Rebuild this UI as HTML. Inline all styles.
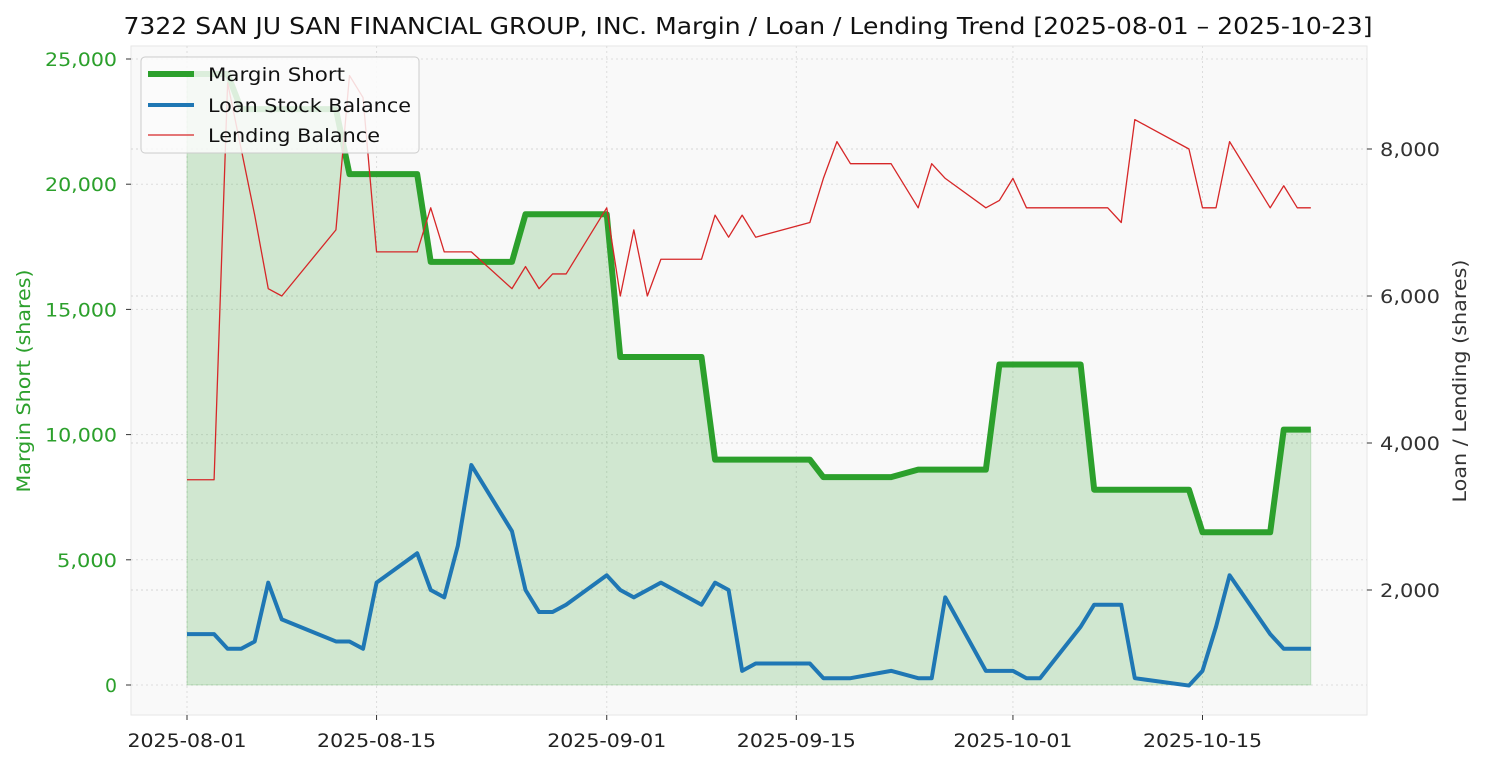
<!DOCTYPE html>
<html><head><meta charset="utf-8"><style>
body{margin:0;background:#fff;font-family:"Liberation Sans","DejaVu Sans",sans-serif}
svg text{font-family:"DejaVu Sans","Liberation Sans",sans-serif}
</style></head><body>
<svg id="c" width="1485" height="765" xmlns="http://www.w3.org/2000/svg"></svg>
<script>
const dayOffsets=[0,2,3,4,5,6,7,11,12,13,14,17,18,19,20,21,24,25,26,27,28,31,32,33,34,35,38,39,40,41,42,46,47,48,49,52,54,55,56,59,60,61,62,63,66,67,68,69,70,74,75,76,77,80,81,82,83];
const marginShort=[24400,24400,24400,23000,23000,23000,23000,23000,20400,20400,20400,20400,16900,16900,16900,16900,16900,18800,18800,18800,18800,18800,13100,13100,13100,13100,13100,9000,9000,9000,9000,9000,8300,8300,8300,8300,8600,8600,8600,8600,12800,12800,12800,12800,12800,7800,7800,7800,7800,7800,6100,6100,6100,6100,10200,10200,10200];
const loanBalance=[1400,1400,1200,1200,1300,2100,1600,1300,1300,1200,2100,2500,2000,1900,2600,3700,2800,2000,1700,1700,1800,2200,2000,1900,2000,2100,1800,2100,2000,900,1000,1000,800,800,800,900,800,800,1900,900,900,900,800,800,1500,1800,1800,1800,800,700,900,1500,2200,1400,1200,1200,1200];
const lendingBalance=[3500,3500,8900,8000,7100,6100,6000,6900,9000,8700,6600,6600,7200,6600,6600,6600,6100,6400,6100,6300,6300,7200,6000,6900,6000,6500,6500,7100,6800,7100,6800,7000,7600,8100,7800,7800,7200,7800,7600,7200,7300,7600,7200,7200,7200,7200,7200,7000,8400,8000,7200,7200,8100,7200,7500,7200,7200];
const leftTicks=[0,5000,10000,15000,20000,25000];
const rightTicks=[2000,4000,6000,8000];
const dateTickDays=[0,14,31,45,61,75];
const dateTickLabels=["2025-08-01","2025-08-15","2025-09-01","2025-09-15","2025-10-01","2025-10-15"];

const NS="http://www.w3.org/2000/svg",svg=document.getElementById('c');
const PL=131,PR=1367,PT=46,PB=715;
const xS=d=>187+d*13.54;
const yL=v=>685-v*(626/25000);
const yR=v=>590-(v-2000)*(147/2000);
function mk(tag,attrs,parent){const e=document.createElementNS(NS,tag);for(const k in attrs)e.setAttribute(k,attrs[k]);(parent||svg).appendChild(e);return e;}
function fmt(v){return v.toLocaleString('en-US');}
function fit(t,len){t.setAttribute('textLength',len);t.setAttribute('lengthAdjust','spacingAndGlyphs');}

const bg=mk('rect',{x:PL,y:PT,width:PR-PL,height:PB-PT,fill:'#f9f9f9',stroke:'#e6e6e6'});



dateTickDays.forEach(d=>{const l=mk('line',{x1:xS(d),x2:xS(d),y1:PT,y2:PB,stroke:'#ddd','stroke-dasharray':'2,3'});

});
leftTicks.forEach(v=>{const l=mk('line',{x1:PL,x2:PR,y1:yL(v),y2:yL(v),stroke:'#ddd','stroke-dasharray':'2,3'});

});
rightTicks.forEach(v=>{const l=mk('line',{x1:PL,x2:PR,y1:yR(v),y2:yR(v),stroke:'#d5d5d5','stroke-dasharray':'2,3'});

});

let fp='M'+xS(dayOffsets[0])+','+yL(0);
dayOffsets.forEach((d,i)=>fp+=' L'+xS(d)+','+yL(marginShort[i]));
fp+=' L'+xS(dayOffsets[dayOffsets.length-1])+','+yL(0)+' Z';
const fa=mk('path',{d:fp,fill:'#2ca02c','fill-opacity':0.2,stroke:'#2ca02c','stroke-opacity':0.2});



function line(vals,yf,color,w,name){
 const p=dayOffsets.map((d,i)=>xS(d)+','+yf(vals[i])).join(' ');
 const e=mk('polyline',{points:p,fill:'none',stroke:color,'stroke-width':w,'stroke-linejoin':'round'});
 
 
}
line(marginShort,yL,'#2ca02c',6,'margin-short-line');
line(loanBalance,yR,'#1f77b4',4,'loan-stock-balance-line');
line(lendingBalance,yR,'#d62728',1.3,'lending-balance-line');

leftTicks.forEach(v=>{mk('line',{x1:PL-5,x2:PL,y1:yL(v),y2:yL(v),stroke:'#333'});
const s=fmt(v);
const t=mk('text',{x:PL-14,y:yL(v)+7,'text-anchor':'end','font-size':19,fill:'#2ca02c'});t.textContent=s;
fit(t,s.length*12);

});
rightTicks.forEach(v=>{mk('line',{x1:PR,x2:PR+5,y1:yR(v),y2:yR(v),stroke:'#333'});
const t=mk('text',{x:PR+13,y:yR(v)+7,'font-size':19,fill:'#333'});t.textContent=fmt(v);
fit(t,60);

});
dateTickDays.forEach((d,i)=>{mk('line',{x1:xS(d),x2:xS(d),y1:PB,y2:PB+5,stroke:'#333'});
const t=mk('text',{x:xS(d),y:PB+32,'text-anchor':'middle','font-size':19,fill:'#222'});t.textContent=dateTickLabels[i];
fit(t,119);

});

const tt=mk('text',{x:748,y:34,'text-anchor':'middle','font-size':23,fill:'#111'});
tt.textContent='7322 SAN JU SAN FINANCIAL GROUP, INC. Margin / Loan / Lending Trend [2025-08-01 – 2025-10-23]';
fit(tt,1249);


const yl=mk('text',{x:0,y:0,'text-anchor':'middle','font-size':19,fill:'#2ca02c',transform:'translate(30,381) rotate(-90)'});
yl.textContent='Margin Short (shares)';
fit(yl,223);


const yr=mk('text',{x:0,y:0,'text-anchor':'middle','font-size':19,fill:'#333',transform:'translate(1466,381) rotate(-90)'});
yr.textContent='Loan / Lending (shares)';
fit(yr,243);



const lg=mk('g',{});


mk('rect',{x:141,y:57,width:278,height:96,rx:4,fill:'#fbfbfb','fill-opacity':0.85,stroke:'#ccc'},lg);
[['Margin Short','#2ca02c',6,74,137],['Loan Stock Balance','#1f77b4',4,105,203],['Lending Balance','#d62728',1.3,135,172]].forEach(([n,c,w,y,len])=>{
 const g=mk('g',{},lg);
 
 
 mk('line',{x1:148,x2:194,y1:y,y2:y,stroke:c,'stroke-width':w},g);
 const t=mk('text',{x:208,y:y+7,'font-size':19,fill:'#111'},g);t.textContent=n;
 fit(t,len);
});
</script>
</body></html>
